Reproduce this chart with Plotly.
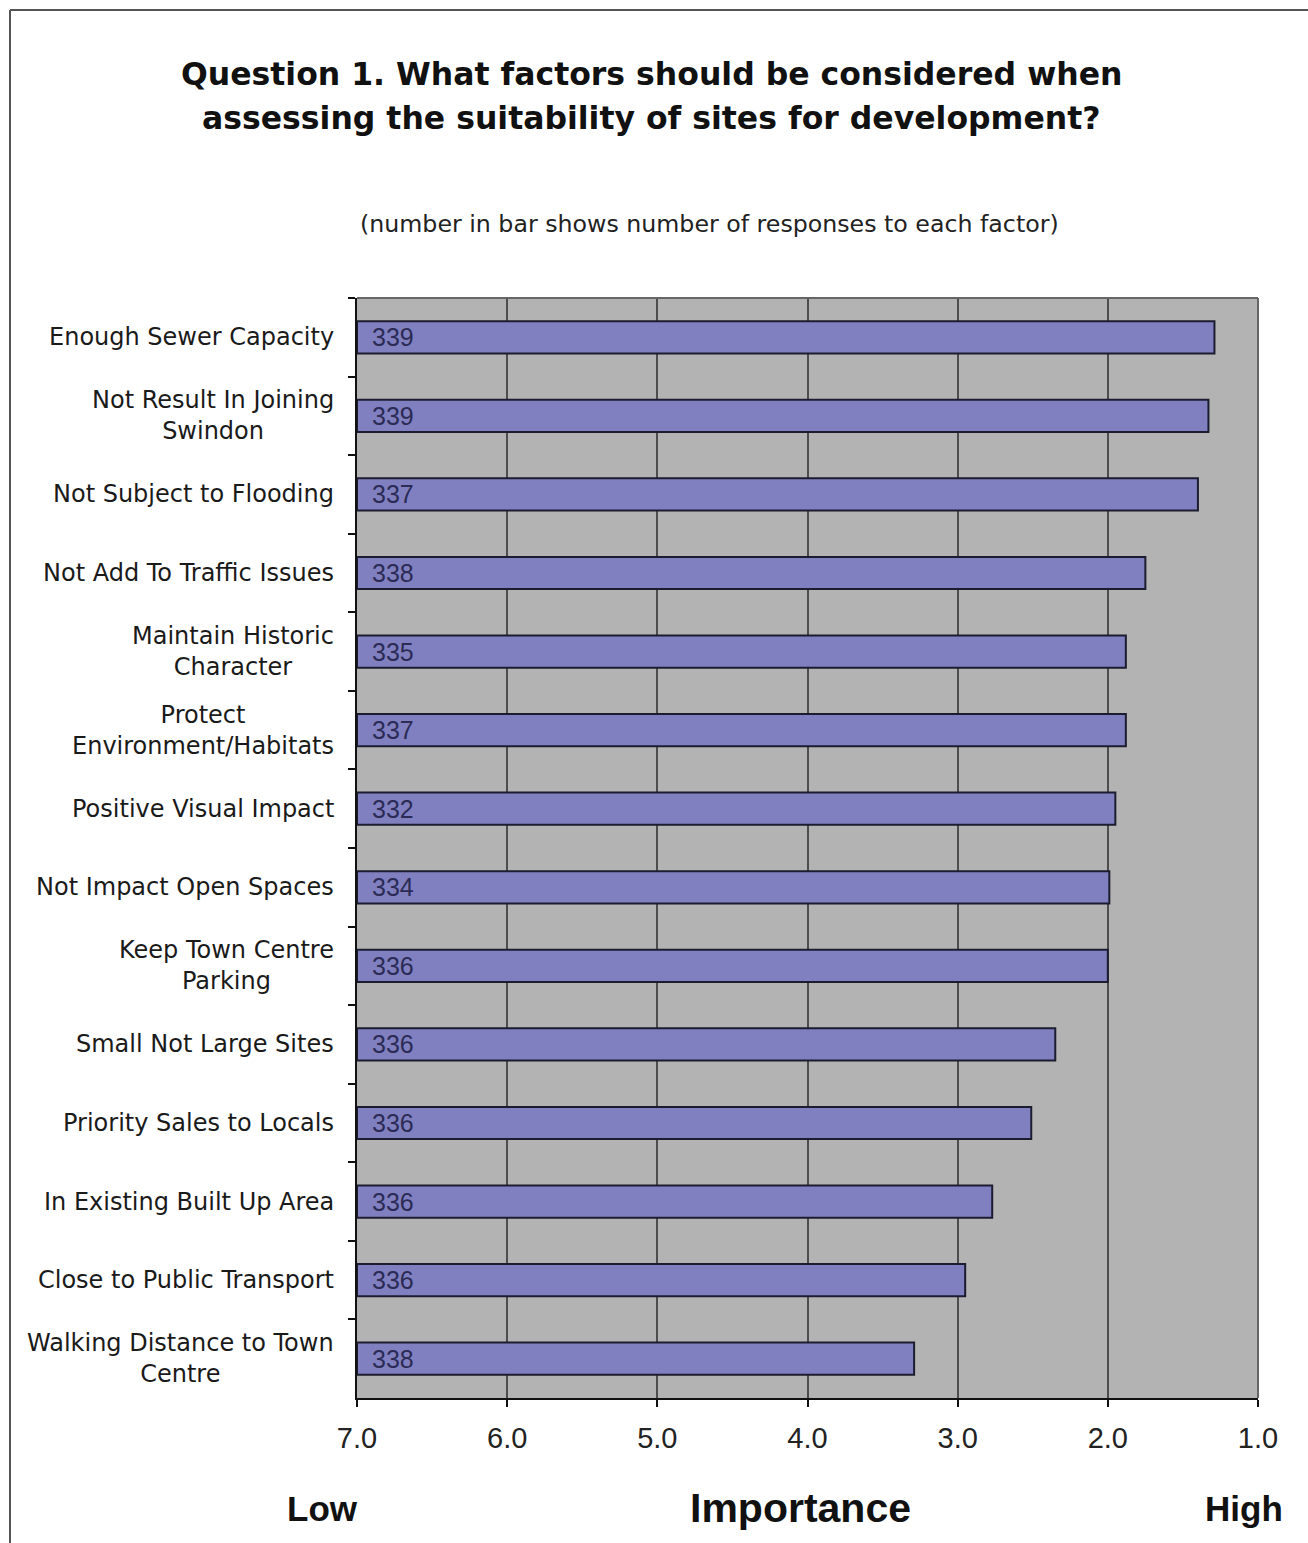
import plotly.graph_objects as go

categories = [
    "Enough Sewer Capacity",
    "Not Result In Joining<br>Swindon",
    "Not Subject to Flooding",
    "Not Add To Traffic Issues",
    "Maintain Historic<br>Character",
    "Protect<br>Environment/Habitats",
    "Positive Visual Impact",
    "Not Impact Open Spaces",
    "Keep Town Centre<br>Parking",
    "Small Not Large Sites",
    "Priority Sales to Locals",
    "In Existing Built Up Area",
    "Close to Public Transport",
    "Walking Distance to Town<br>Centre",
]
mean_score = [1.29, 1.33, 1.40, 1.75, 1.88, 1.88, 1.95, 1.99, 2.00, 2.35, 2.51, 2.77, 2.95, 3.29]
responses = [339, 339, 337, 338, 335, 337, 332, 334, 336, 336, 336, 336, 336, 338]
tick_values = [7, 6, 5, 4, 3, 2, 1]
axis_base = 7

W, H = 1308, 1543
L, R, T, B = 357, 50, 298, 145
PW, PH = W - L - R, H - T - B


def px(x):
    return (x - L) / PW


def py(y):
    return (H - B - y) / PH


FONT = "Liberation Sans, Arial, sans-serif"
WIDE = "DejaVu Sans, Liberation Sans, sans-serif"

fig = go.Figure()
fig.add_trace(go.Bar(
    y=categories,
    x=[v - axis_base for v in mean_score],
    base=axis_base,
    orientation="h",
    width=0.41,
    marker=dict(color="#8080c0", line=dict(color="#1c1c30", width=2)),
    hoverinfo="skip",
))

annotations = []
# category labels (centred lines, right edge near the axis)
for c in categories:
    annotations.append(dict(
        x=0, xref="paper", y=c, yref="y", text=c, showarrow=False,
        xanchor="right", yanchor="middle", align="center", xshift=-21,
        font=dict(family=WIDE, size=24, color="#1a1a1a"),
    ))
# response counts inside bars
for c, n in zip(categories, responses):
    annotations.append(dict(
        x=axis_base, xref="x", y=c, yref="y", text=str(n), showarrow=False,
        xanchor="left", yanchor="middle", xshift=13,
        font=dict(family=FONT, size=25, color="#2b2b55"),
    ))

annotations += [
    dict(x=px(651), y=py(74), xref="paper", yref="paper", showarrow=False,
         text="<b>Question 1. What factors should be considered when</b>",
         xanchor="center", yanchor="middle",
         font=dict(family=WIDE, size=31.5, color="#111111")),
    dict(x=px(651), y=py(118), xref="paper", yref="paper", showarrow=False,
         text="<b>assessing the suitability of sites for development?</b>",
         xanchor="center", yanchor="middle",
         font=dict(family=WIDE, size=31.5, color="#111111")),
    dict(x=px(709), y=py(224), xref="paper", yref="paper", showarrow=False,
         text="(number in bar shows number of responses to each factor)",
         xanchor="center", yanchor="middle",
         font=dict(family=WIDE, size=23.7, color="#222222")),
    dict(x=px(322), y=py(1508), xref="paper", yref="paper", showarrow=False,
         text="<b>Low</b>", xanchor="center", yanchor="middle",
         font=dict(family=FONT, size=35, color="#111111")),
    dict(x=px(800), y=py(1508), xref="paper", yref="paper", showarrow=False,
         text="<b>Importance</b>", xanchor="center", yanchor="middle",
         font=dict(family=FONT, size=41, color="#111111")),
    dict(x=px(1244), y=py(1508), xref="paper", yref="paper", showarrow=False,
         text="<b>High</b>", xanchor="center", yanchor="middle",
         font=dict(family=FONT, size=35, color="#111111")),
]

shapes = [
    # plot frame top and right (grey)
    dict(type="line", xref="paper", yref="paper", x0=0, x1=1, y0=1, y1=1,
         line=dict(color="#666666", width=2), layer="above"),
    dict(type="line", xref="paper", yref="paper", x0=1, x1=1, y0=0, y1=1,
         line=dict(color="#666666", width=2), layer="above"),
    # outer chart frame
    dict(type="line", xref="paper", yref="paper", x0=px(10), x1=px(1310), y0=py(10), y1=py(10),
         line=dict(color="#555555", width=2)),
    dict(type="line", xref="paper", yref="paper", x0=px(10), x1=px(10), y0=py(10), y1=py(1545),
         line=dict(color="#555555", width=2)),
]

fig.update_layout(
    width=W, height=H,
    margin=dict(l=L, r=R, t=T, b=B),
    paper_bgcolor="white",
    plot_bgcolor="#b3b3b3",
    showlegend=False,
    annotations=annotations,
    shapes=shapes,
    xaxis=dict(
        range=[7, 1], tickvals=tick_values, tickformat=".1f",
        showgrid=True, gridcolor="#4d4d4d", gridwidth=2,
        showline=True, linecolor="#111111", linewidth=2,
        ticks="outside", ticklen=7, tickcolor="#111111", tickwidth=2,
        ticklabelstandoff=6,
        tickfont=dict(family=FONT, size=29, color="#222222"),
        zeroline=False, fixedrange=True,
    ),
    yaxis=dict(
        type="category", autorange="reversed",
        showticklabels=False, showgrid=False,
        showline=True, linecolor="#111111", linewidth=2,
        ticks="outside", ticklen=7, tickcolor="#111111", tickwidth=2,
        tickson="boundaries", fixedrange=True,
    ),
)

fig.write_html("out.html")
